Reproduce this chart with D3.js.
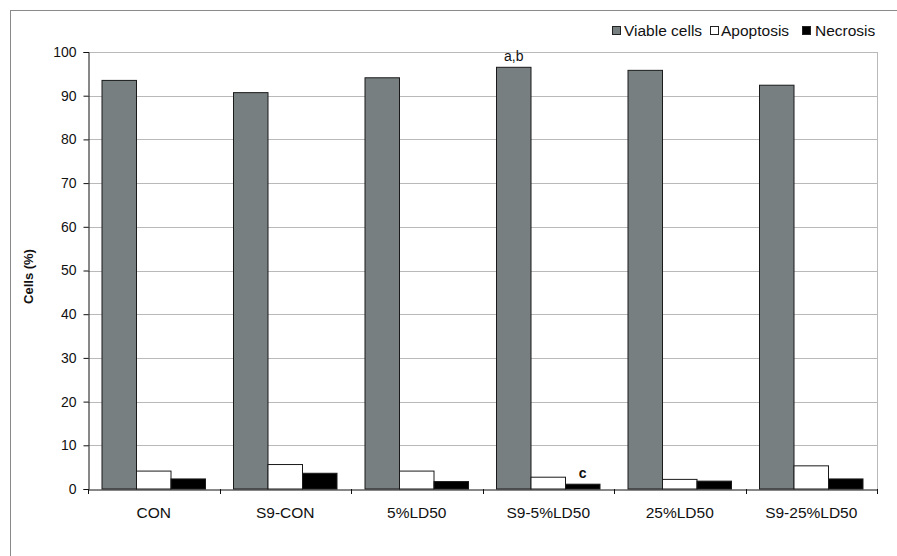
<!DOCTYPE html>
<html>
<head>
<meta charset="utf-8">
<script src="https://cdn.jsdelivr.net/npm/d3@7"></script>
<style>
  body { margin: 0; background: #fff; }
  text { font-family: "Liberation Sans", Arial, sans-serif; fill: #111; }
</style>
</head>
<body>
<svg></svg>
<script>
const categories = ['CON', 'S9-CON', '5%LD50', 'S9-5%LD50', '25%LD50', 'S9-25%LD50'];
const seriesNames = ['Viable cells', 'Apoptosis', 'Necrosis'];
const viable = [93.5, 90.7, 94.1, 96.5, 95.8, 92.4];
const apoptosis = [4.1, 5.6, 4.1, 2.7, 2.2, 5.3];
const necrosis = [2.3, 3.6, 1.7, 1.1, 1.8, 2.3];
const yTicks = [0, 10, 20, 30, 40, 50, 60, 70, 80, 90, 100];
const notes = [
    { cat: 'S9-5%LD50', series: 'Viable cells', text: 'a,b' },
    { cat: 'S9-5%LD50', series: 'Necrosis', text: 'c' }
];

const width = 897, height = 556;
const colors = ['#787f81', '#ffffff', '#000000'];
const values = [viable, apoptosis, necrosis];

const svg = d3.select('svg')
    .attr('width', width)
    .attr('height', height);

// outer frame (runs off the right and bottom edge)
svg.append('rect')
    .attr('x', 10.5).attr('y', 10.5)
    .attr('width', 900).attr('height', 600)
    .attr('fill', 'none')
    .attr('stroke', '#8a8a8a');

const plotLeft = 88, plotRight = 877, plotTop = 52, plotBottom = 489;

const x0 = d3.scaleBand()
    .domain(categories)
    .range([plotLeft, plotRight]);

const x1 = d3.scaleBand()
    .domain(seriesNames)
    .range([14, x0.bandwidth() - 14]);

const y = d3.scaleLinear()
    .domain([0, 100])
    .range([plotBottom, plotTop]);

// grid
svg.append('g')
    .selectAll('line')
    .data(yTicks.filter(d => d > 0))
    .join('line')
    .attr('x1', plotLeft).attr('x2', plotRight)
    .attr('y1', d => Math.round(y(d)) + 0.5)
    .attr('y2', d => Math.round(y(d)) + 0.5)
    .attr('stroke', '#b9b9b9');

svg.append('line')
    .attr('x1', plotRight + 0.5).attr('x2', plotRight + 0.5)
    .attr('y1', plotTop).attr('y2', plotBottom)
    .attr('stroke', '#b9b9b9');

// bars
const rows = categories.map((c, i) => ({
    cat: c,
    vals: seriesNames.map((s, j) => ({ series: s, value: values[j][i], color: colors[j] }))
}));

const groups = svg.append('g')
    .selectAll('g')
    .data(rows)
    .join('g')
    .attr('transform', d => `translate(${x0(d.cat)}, 0)`);

groups.selectAll('rect')
    .data(d => d.vals)
    .join('rect')
    .attr('x', d => x1(d.series))
    .attr('y', d => y(d.value))
    .attr('width', x1.bandwidth())
    .attr('height', d => plotBottom - y(d.value))
    .attr('fill', d => d.color)
    .attr('stroke', '#1a1a1a')
    .attr('stroke-width', 1);

// axes
const yAxis = svg.append('g')
    .attr('transform', `translate(${plotLeft + 0.5}, 0)`)
    .call(d3.axisLeft(y).tickValues(yTicks).tickSize(5).tickPadding(7));

yAxis.select('.domain').attr('stroke', '#111');
yAxis.selectAll('.tick line').attr('stroke', '#111');
yAxis.selectAll('text')
    .style('font-size', '14px')
    .style('font-family', '"Liberation Sans", Arial, sans-serif')
    .attr('fill', '#111');

const xAxis = svg.append('g')
    .attr('transform', `translate(0, ${plotBottom + 0.5})`)
    .call(d3.axisBottom(x0).tickSize(0).tickPadding(17));

xAxis.select('.domain').attr('stroke', '#111');
xAxis.selectAll('text')
    .style('font-size', '15.5px')
    .style('font-family', '"Liberation Sans", Arial, sans-serif')
    .attr('fill', '#111');

// tick marks at band edges
svg.append('g')
    .selectAll('line')
    .data(categories.map(c => x0(c)).concat([plotRight]))
    .join('line')
    .attr('x1', d => Math.round(d) + 0.5).attr('x2', d => Math.round(d) + 0.5)
    .attr('y1', plotBottom).attr('y2', plotBottom + 5)
    .attr('stroke', '#111');

// y label
svg.append('text')
    .attr('transform', `translate(33, ${(plotTop + plotBottom) / 2 + 6}) rotate(-90)`)
    .attr('text-anchor', 'middle')
    .style('font-size', '13px')
    .style('font-weight', 'bold')
    .text('Cells (%)');

// annotations
svg.append('g')
    .selectAll('text')
    .data(notes)
    .join('text')
    .attr('x', d => x0(d.cat) + x1(d.series) + x1.bandwidth() / 2)
    .attr('y', d => {
        const i = categories.indexOf(d.cat), j = seriesNames.indexOf(d.series);
        return y(values[j][i]) - 6;
    })
    .attr('text-anchor', 'middle')
    .style('font-size', '14px')
    .style('font-weight', d => d.text === 'c' ? 'bold' : 'normal')
    .text(d => d.text);

// legend
const legendItems = [
    { name: 'Viable cells', color: colors[0], x: 612, tx: 624 },
    { name: 'Apoptosis', color: colors[1], x: 710, tx: 721 },
    { name: 'Necrosis', color: colors[2], x: 802, tx: 815 }
];

const legend = svg.append('g');
legend.selectAll('rect')
    .data(legendItems)
    .join('rect')
    .attr('x', d => d.x + 0.5)
    .attr('y', 26.5)
    .attr('width', 8).attr('height', 8)
    .attr('fill', d => d.color)
    .attr('stroke', '#222');

legend.selectAll('text')
    .data(legendItems)
    .join('text')
    .attr('x', d => d.tx)
    .attr('y', 36)
    .style('font-size', '15.5px')
    .text(d => d.name);
</script>
</body>
</html>
